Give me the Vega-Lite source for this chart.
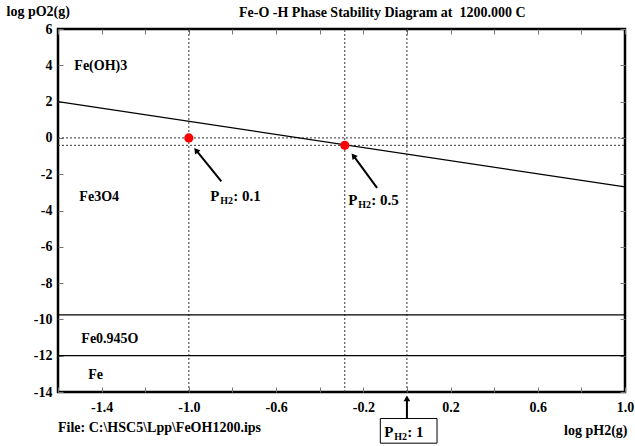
{
  "$schema": "https://vega.github.io/schema/vega-lite/v6.json",
  "width": 567,
  "height": 363,
  "autosize": {"type": "none"},
  "padding": {"left": 58, "top": 29, "right": 10, "bottom": 54},
  "title": {
    "text": "Fe-O -H Phase Stability Diagram at \u00a01200.000 C",
    "anchor": "start",
    "dx": 233,
    "dy": 41,
    "font": "Liberation Serif",
    "fontSize": 14,
    "fontWeight": "bold",
    "color": "black",
    "baseline": "alphabetic",
    "offset": 14
  },
  "config": {
    "view": {"stroke": "black", "strokeWidth": 2.5},
    "text": {"font": "Liberation Serif", "fontSize": 14, "fontWeight": "bold", "color": "black", "align": "left", "baseline": "alphabetic"}
  },
  "datasets": {
    "boundaries": [
      {"x": -1.6, "y": 2.0, "x2": 1.0, "y2": -2.7},
      {"x": -1.6, "y": -9.75, "x2": 1.0, "y2": -9.75},
      {"x": -1.6, "y": -12.0, "x2": 1.0, "y2": -12.0}
    ],
    "guides": [
      {"x": -1.0, "y": -14, "x2": -1.0, "y2": 6},
      {"x": -0.285, "y": -14, "x2": -0.285, "y2": 6},
      {"x": 0, "y": -14, "x2": 0, "y2": 6},
      {"x": -1.6, "y": 0, "x2": 1.0, "y2": 0},
      {"x": -1.6, "y": -0.41, "x2": 1.0, "y2": -0.41}
    ],
    "points": [
      {"x": -1.0, "y": 0},
      {"x": -0.285, "y": -0.41}
    ],
    "arrows": [
      {"arrow": "0.1", "x": -0.851, "y": -2.40, "x2": -0.967, "y2": -0.676},
      {"arrow": "0.5", "x": -0.137, "y": -2.75, "x2": -0.2455, "y2": -0.98},
      {"arrow": "1", "x": 0, "y": -15.46, "x2": 0, "y2": -14.35}
    ],
    "heads": [
      {"arrow": "0.1", "x": -0.967, "y": -0.676},
      {"arrow": "0.5", "x": -0.2455, "y": -0.98},
      {"arrow": "1", "x": 0, "y": -14.35}
    ],
    "plabels": [
      {"x": -0.902, "y": -3.45, "sub": "H2", "val": ": 0.1"},
      {"x": -0.269, "y": -3.70, "sub": "H2", "val": ": 0.5"},
      {"x": -0.104, "y": -16.5, "sub": "H2", "val": ": 1"}
    ],
    "box": [
      {"x": -0.122, "x2": 0.138, "y": -15.46, "y2": -16.82}
    ],
    "labels": [
      {"x": -1.525, "y": 3.76, "text": "Fe(OH)3"},
      {"x": -1.502, "y": -3.49, "text": "Fe3O4"},
      {"x": -1.493, "y": -11.28, "text": "Fe0.945O"},
      {"x": -1.461, "y": -13.26, "text": "Fe"},
      {"x": -1.6, "y": -16.23, "text": "File: C:\\HSC5\\Lpp\\FeOH1200.ips"}
    ],
    "frame": [
      {"x": -1.6, "y": -14}
    ]
  },
  "layer": [
    {
      "encoding": {
        "x": {
          "field": "x",
          "type": "quantitative",
          "scale": {"domain": [-1.6, 1.0], "nice": false, "zero": false},
          "axis": {
            "orient": "bottom",
            "values": [-1.6, -1.4, -1.2, -1.0, -0.8, -0.6, -0.4, -0.2, 0, 0.2, 0.4, 0.6, 0.8, 1.0],
            "labelExpr": "abs(round((datum.value + 1.4) * 10)) % 4 == 0 ? (datum.value < 0 ? '-' + format(-datum.value, '.1f') : format(datum.value, '.1f')) : ''",
            "labelOverlap": false,
            "labelFlush": false,
            "ticks": true,
            "tickSize": -5,
            "tickColor": "#777777",
            "domain": false,
            "grid": false,
            "labelFont": "Liberation Serif",
            "labelFontSize": 14,
            "labelFontWeight": "bold",
            "labelColor": "black",
            "labelPadding": 13,
            "title": "log pH2(g)",
            "titleX": 569,
            "titleY": 42,
            "titleAlign": "right",
            "titleBaseline": "alphabetic",
            "titleFont": "Liberation Serif",
            "titleFontSize": 14,
            "titleFontWeight": "bold",
            "titleColor": "black"
          }
        },
        "y": {
          "field": "y",
          "type": "quantitative",
          "scale": {"domain": [-14, 6], "nice": false, "zero": false},
          "axis": {
            "orient": "left",
            "values": [-14, -12, -10, -8, -6, -4, -2, 0, 2, 4, 6],
            "labelExpr": "datum.value < 0 ? '-' + format(-datum.value, 'd') : format(datum.value, 'd')",
            "labelOverlap": false,
            "labelFlush": false,
            "ticks": true,
            "tickSize": -5,
            "tickColor": "#777777",
            "domain": false,
            "grid": false,
            "labelFont": "Liberation Serif",
            "labelFontSize": 14,
            "labelFontWeight": "bold",
            "labelColor": "black",
            "labelPadding": 11,
            "title": "log pO2(g)",
            "titleAngle": 0,
            "titleX": -52,
            "titleY": -14,
            "titleAlign": "left",
            "titleBaseline": "alphabetic",
            "titleFont": "Liberation Serif",
            "titleFontSize": 14,
            "titleFontWeight": "bold",
            "titleColor": "black"
          }
        }
      },
      "layer": [
        {
          "data": {"name": "guides"},
          "mark": {"type": "rule", "stroke": "#333333", "strokeWidth": 1, "strokeDash": [2, 2]},
          "encoding": {"x2": {"field": "x2"}, "y2": {"field": "y2"}}
        },
        {
          "data": {"name": "boundaries"},
          "mark": {"type": "rule", "stroke": "black", "strokeWidth": 1.2},
          "encoding": {"x2": {"field": "x2"}, "y2": {"field": "y2"}}
        },
        {
          "data": {"name": "points"},
          "mark": {"type": "circle", "color": "#ff0000", "opacity": 1, "size": 85}
        },
        {
          "data": {"name": "arrows"},
          "mark": {"type": "rule", "stroke": "black", "strokeWidth": 2},
          "encoding": {"x2": {"field": "x2"}, "y2": {"field": "y2"}}
        },
        {
          "data": {"name": "heads"},
          "transform": [{"filter": "datum.arrow != '1'"}],
          "mark": {"type": "point", "shape": "triangle-up", "filled": true, "color": "black", "opacity": 1, "size": 45, "angle": 322}
        },
        {
          "data": {"name": "heads"},
          "transform": [{"filter": "datum.arrow == '1'"}],
          "mark": {"type": "point", "shape": "triangle-up", "filled": true, "color": "black", "opacity": 1, "size": 45, "angle": 0}
        },
        {
          "data": {"name": "box"},
          "mark": {"type": "rect", "fill": "white", "stroke": "black", "strokeWidth": 1},
          "encoding": {"x2": {"field": "x2"}, "y2": {"field": "y2"}}
        },
        {
          "data": {"name": "labels"},
          "mark": {"type": "text"},
          "encoding": {"text": {"field": "text"}}
        },
        {
          "data": {"name": "plabels"},
          "mark": {"type": "text", "fontSize": 15},
          "encoding": {"text": {"value": "P"}}
        },
        {
          "data": {"name": "plabels"},
          "mark": {"type": "text", "fontSize": 10, "dx": 10, "dy": 3},
          "encoding": {"text": {"field": "sub"}}
        },
        {
          "data": {"name": "plabels"},
          "mark": {"type": "text", "fontSize": 15, "dx": 23},
          "encoding": {"text": {"field": "val"}}
        }
      ]
    },
    {
      "data": {"name": "frame"},
      "mark": {"type": "point", "opacity": 0},
      "encoding": {
        "x": {
          "field": "x",
          "type": "quantitative",
          "scale": {"domain": [-1.6, 1.0], "nice": false, "zero": false},
          "axis": {
            "orient": "top",
            "values": [-1.6, -1.4, -1.2, -1.0, -0.8, -0.6, -0.4, -0.2, 0, 0.2, 0.4, 0.6, 0.8, 1.0],
            "labels": false,
            "ticks": true,
            "tickSize": -5,
            "tickColor": "#777777",
            "domain": false,
            "grid": false,
            "title": null
          }
        },
        "y": {
          "field": "y",
          "type": "quantitative",
          "scale": {"domain": [-14, 6], "nice": false, "zero": false},
          "axis": {
            "orient": "right",
            "values": [-14, -12, -10, -8, -6, -4, -2, 0, 2, 4, 6],
            "labels": false,
            "ticks": true,
            "tickSize": -5,
            "tickColor": "#777777",
            "domain": false,
            "grid": false,
            "title": null
          }
        }
      }
    }
  ],
  "resolve": {"axis": {"x": "independent", "y": "independent"}}
}
